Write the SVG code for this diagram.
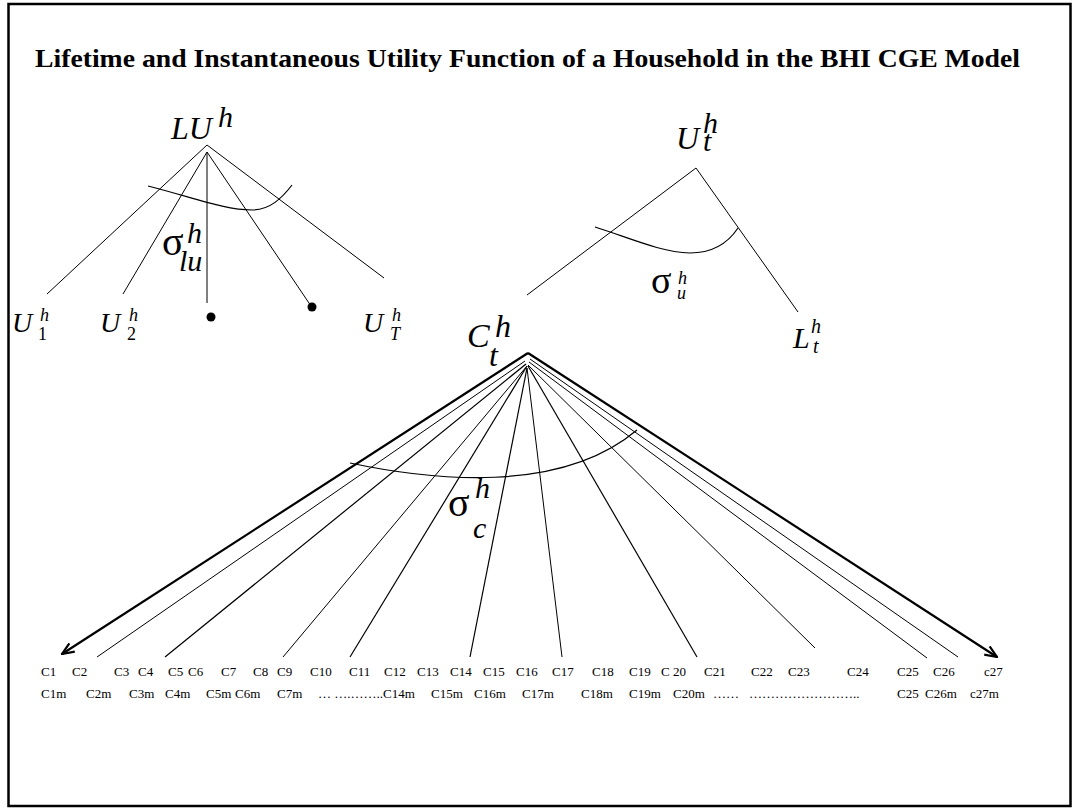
<svg xmlns="http://www.w3.org/2000/svg" width="1073" height="809" viewBox="0 0 1073 809">
  <style>
    .frame { fill: none; stroke: #000; stroke-width: 2.5; }
    .ln { stroke: #000; stroke-width: 1; fill: none; }
    .ln2 { stroke: #000; stroke-width: 1.2; fill: none; }
    .thick { stroke: #000; stroke-width: 2.2; fill: none; }
    .arc { stroke: #000; stroke-width: 1.2; fill: none; }
    .title { font-family: "Liberation Serif", "Times New Roman", serif; font-weight: bold; font-size: 25px; }
    .m { font-family: "Liberation Serif", "Times New Roman", serif; font-style: italic; }
    .g { font-family: "Liberation Serif", "Times New Roman", serif; font-style: normal; }
    .lbl { font-family: "Liberation Serif", "Times New Roman", serif; font-size: 13px; }
  </style>
  <defs>
    <marker id="arr" markerUnits="userSpaceOnUse" viewBox="0 0 14 12" refX="13" refY="6" markerWidth="14" markerHeight="12" orient="auto">
      <path d="M1,1 L13,6 L1,11" fill="none" stroke="#000" stroke-width="2.2"/>
    </marker>
  </defs>

  <rect class="frame" x="8.5" y="4" width="1062" height="802"/>

  <text class="title" x="35" y="67" textLength="985" lengthAdjust="spacingAndGlyphs">Lifetime and Instantaneous Utility Function of a Household in the BHI CGE Model</text>

  <!-- lifetime utility nest -->
  <g id="lu-tree">
    <line class="ln" x1="207" y1="145" x2="47" y2="294"/>
    <line class="ln" x1="207" y1="152" x2="123" y2="294"/>
    <line class="ln" x1="207" y1="152" x2="207" y2="303"/>
    <line class="ln" x1="207" y1="152" x2="311" y2="306"/>
    <line class="ln" x1="207" y1="145" x2="384" y2="278"/>
    <path class="arc" d="M148,186 C195,198 225,210 252,210 C270,210 282,198 292,185"/>
  </g>
  <g id="node-LU">
    <text class="m" font-size="32"><tspan x="171" y="139">LU</tspan><tspan x="218" y="127" font-size="30">h</tspan></text>
  </g>
  <g id="sigma-lu">
    <text class="m" font-size="30"><tspan class="g" x="162" y="255" font-size="40">σ</tspan><tspan x="187" y="243">h</tspan><tspan x="179" y="271">lu</tspan></text>
  </g>
  <g id="node-U1">
    <text class="m" font-size="18"><tspan x="12" y="332" font-size="28">U</tspan><tspan x="40" y="321">h</tspan><tspan class="g" x="38" y="340">1</tspan></text>
  </g>
  <g id="node-U2">
    <text class="m" font-size="18"><tspan x="100" y="332" font-size="28">U</tspan><tspan x="129" y="321">h</tspan><tspan class="g" x="127" y="340">2</tspan></text>
  </g>
  <g id="node-dot1"><circle cx="211" cy="317" r="4.5"/></g>
  <g id="node-dot2"><circle cx="312" cy="307" r="4.5"/></g>
  <g id="node-UT">
    <text class="m" font-size="18"><tspan x="363" y="332" font-size="28">U</tspan><tspan x="392" y="321">h</tspan><tspan x="390" y="340">T</tspan></text>
  </g>

  <!-- instantaneous utility nest -->
  <g id="ut-tree">
    <line class="ln" x1="696" y1="168" x2="527" y2="295"/>
    <line class="ln" x1="696" y1="168" x2="798" y2="312"/>
    <path class="arc" d="M595,227 C630,238 660,252 690,253 C712,253 728,243 738,228"/>
  </g>
  <g id="node-Ut">
    <text class="m" font-size="30"><tspan x="676" y="149" font-size="32">U</tspan><tspan x="703" y="133">h</tspan><tspan x="703" y="151">t</tspan></text>
  </g>
  <g id="sigma-u">
    <text class="m" font-size="18"><tspan class="g" x="651" y="293" font-size="38">σ</tspan><tspan x="678" y="284">h</tspan><tspan x="677" y="299">u</tspan></text>
  </g>
  <g id="node-Lt">
    <text class="m" font-size="20"><tspan x="793" y="348" font-size="30">L</tspan><tspan x="811" y="333">h</tspan><tspan x="813" y="353">t</tspan></text>
  </g>
  <g id="node-Ct">
    <text class="m" font-size="32"><tspan x="467" y="347" font-size="34">C</tspan><tspan x="495" y="337">h</tspan><tspan x="489" y="366">t</tspan></text>
  </g>

  <!-- consumption fan -->
  <g id="connectors">
    <line class="thick" x1="528" y1="353" x2="62" y2="654" marker-end="url(#arr)"/>
    <line class="thick" x1="528" y1="353" x2="997" y2="657" marker-end="url(#arr)"/>
    <line class="ln" x1="525" y1="361" x2="97" y2="657"/>
    <line class="ln2" x1="526" y1="364" x2="165" y2="657"/>
    <line class="ln" x1="527" y1="366" x2="283" y2="657"/>
    <line class="ln2" x1="527" y1="366" x2="350" y2="657"/>
    <line class="ln2" x1="527" y1="368" x2="470" y2="657"/>
    <line class="ln" x1="527" y1="368" x2="562" y2="657"/>
    <line class="ln2" x1="528" y1="366" x2="697" y2="657"/>
    <line class="ln" x1="528" y1="365" x2="815" y2="648"/>
    <line class="ln" x1="529" y1="362" x2="927" y2="658"/>
    <line class="ln" x1="530" y1="359" x2="958" y2="657"/>
    <path class="arc" d="M350,463 C430,480 560,495 637,430"/>
  </g>
  <g id="sigma-c">
    <text class="m" font-size="30"><tspan class="g" x="448" y="516" font-size="40">σ</tspan><tspan x="475" y="498">h</tspan><tspan x="473" y="538">c</tspan></text>
  </g>

  <!-- commodity labels -->
  <g id="commodities" class="lbl">
    <text x="41" y="676">C1</text>
    <text x="72" y="676">C2</text>
    <text x="114" y="676">C3</text>
    <text x="138" y="676">C4</text>
    <text x="168" y="676">C5</text>
    <text x="188" y="676">C6</text>
    <text x="221" y="676">C7</text>
    <text x="253" y="676">C8</text>
    <text x="277" y="676">C9</text>
    <text x="310" y="676">C10</text>
    <text x="349" y="676">C11</text>
    <text x="384" y="676">C12</text>
    <text x="417" y="676">C13</text>
    <text x="450" y="676">C14</text>
    <text x="483" y="676">C15</text>
    <text x="516" y="676">C16</text>
    <text x="552" y="676">C17</text>
    <text x="592" y="676">C18</text>
    <text x="629" y="676">C19</text>
    <text x="661" y="676">C 20</text>
    <text x="704" y="676">C21</text>
    <text x="751" y="676">C22</text>
    <text x="788" y="676">C23</text>
    <text x="847" y="676">C24</text>
    <text x="897" y="676">C25</text>
    <text x="933" y="676">C26</text>
    <text x="984" y="676">c27</text>

    <text x="41" y="698">C1m</text>
    <text x="86" y="698">C2m</text>
    <text x="129" y="698">C3m</text>
    <text x="165" y="698">C4m</text>
    <text x="206" y="698">C5m</text>
    <text x="235" y="698">C6m</text>
    <text x="277" y="698">C7m</text>
    <text x="318" y="698">… ….……..C14m</text>
    <text x="431" y="698">C15m</text>
    <text x="474" y="698">C16m</text>
    <text x="522" y="698">C17m</text>
    <text x="581" y="698">C18m</text>
    <text x="629" y="698">C19m</text>
    <text x="673" y="698">C20m</text>
    <text x="713" y="698">……</text>
    <text x="749" y="698">……………………..</text>
    <text x="897" y="698">C25</text>
    <text x="925" y="698">C26m</text>
    <text x="970" y="698">c27m</text>
  </g>
</svg>
